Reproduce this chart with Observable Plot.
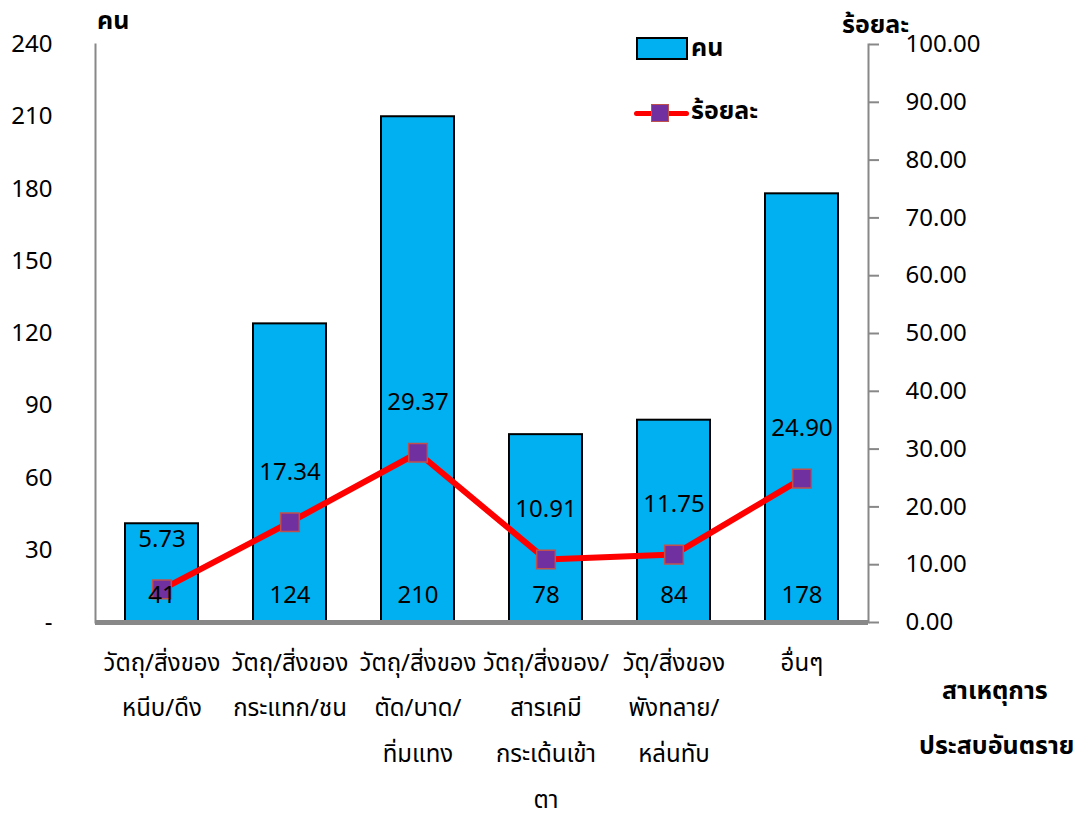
<!DOCTYPE html>
<html>
<head>
<meta charset="utf-8">
<script src="https://cdn.jsdelivr.net/npm/d3@7"></script>
<script src="https://cdn.jsdelivr.net/npm/@observablehq/plot@0.6"></script>
<style>
  html, body { margin: 0; padding: 0; background: #fff; }
  body { width: 1084px; height: 824px; position: relative; overflow: hidden;
         font-family: Tahoma, "Noto Sans Thai", "Noto Sans", "DejaVu Sans", sans-serif; }
  #chart { position: absolute; left: 0; top: 0; }
  .lbl { position: absolute; font-weight: bold; font-size: 25px; color: #000; white-space: nowrap; }
  .leg-bar { position: absolute; left: 636px; top: 37px; width: 48px; height: 19px; background: #00B0F0; border: 2px solid #000; }
  .leg-line { position: absolute; left: 634px; top: 111px; width: 55px; height: 5px; background: #FF0000; border-radius: 3px; }
  .leg-sq { position: absolute; left: 651px; top: 104px; width: 16px; height: 16px; background: #7030A0; border: 1.5px solid #C0504D; }
</style>
</head>
<body>
<div id="chart"></div>
<div class="lbl" style="left:97px; top:2px;">คน</div>
<div class="lbl" style="left:842px; top:6px;">ร้อยละ</div>
<div class="leg-bar"></div>
<div class="lbl" style="left:691px; top:29px;">คน</div>
<div class="leg-line"></div>
<div class="leg-sq"></div>
<div class="lbl" style="left:691px; top:92px;">ร้อยละ</div>
<div class="lbl" style="left:942px; top:672px;">สาเหตุการ</div>
<div class="lbl" style="left:919px; top:727px;">ประสบอันตราย</div>
<script>
const categories = [
  "วัตถุ/สิ่งของ\nหนีบ/ดึง",
  "วัตถุ/สิ่งของ\nกระแทก/ชน",
  "วัตถุ/สิ่งของ\nตัด/บาด/\nทิ่มแทง",
  "วัตถุ/สิ่งของ/\nสารเคมี\nกระเด้นเข้า\nตา",
  "วัตุ/สิ่งของ\nพังทลาย/\nหล่นทับ",
  "อื่นๆ"
];
const counts = [41, 124, 210, 78, 84, 178];
const percents = [5.73, 17.34, 29.37, 10.91, 11.75, 24.90];
const leftTicks = [0, 30, 60, 90, 120, 150, 180, 210, 240];
const rightTicks = [0, 10, 20, 30, 40, 50, 60, 70, 80, 90, 100];

const ratio = 240 / 100; // right axis (percent) mapped onto left scale
const data = categories.map((c, i) => ({cat: c, n: counts[i], p: percents[i]}));
const font = 'Tahoma, "Noto Sans Thai", "Noto Sans", "DejaVu Sans", sans-serif';

const chart = Plot.plot({
  width: 1084,
  height: 824,
  marginLeft: 95,
  marginRight: 216,
  marginTop: 44,
  marginBottom: 202,
  style: {fontFamily: font, fontSize: "22px", color: "#000", background: "#fff"},
  x: {domain: categories, paddingInner: 0.43, paddingOuter: 0.215},
  y: {domain: [0, 240]},
  marks: [
    Plot.frame({anchor: "left", stroke: "#888", strokeWidth: 2}),
    Plot.frame({anchor: "right", stroke: "#888", strokeWidth: 2}),
    Plot.axisY({ticks: leftTicks, tickSize: 0, tickPadding: 43, fontSize: 24,
      tickFormat: d => d === 0 ? "-" : String(d), label: null}),
    Plot.axisY({anchor: "right", ticks: rightTicks.map(t => t * ratio), tickSize: 10,
      stroke: "#888", strokeWidth: 2, tickPadding: 27, fontSize: 24, textAnchor: "start",
      tickFormat: d => (d / ratio).toFixed(2), label: null}),
    Plot.axisX({tickSize: 0, tickPadding: 16, fontSize: 24, lineHeight: 1.9, label: null, textAnchor: "middle"}),
    Plot.barY(data, {x: "cat", y: "n", fill: "#00B0F0", stroke: "#000", strokeWidth: 2}),
    Plot.ruleY([0], {stroke: "#888", strokeWidth: 5}),
    Plot.line(data, {x: "cat", y: d => d.p * ratio, stroke: "#FF0000", strokeWidth: 6}),
    Plot.dot(data, {x: "cat", y: d => d.p * ratio, symbol: "square", r: 10.5,
      fill: "#7030A0", stroke: "#C0504D", strokeWidth: 1.5}),
    Plot.text(data, {x: "cat", y: d => d.p * ratio, text: d => d.p.toFixed(2), dy: -50, fontSize: 24, fill: "#000"}),
    Plot.text(data, {x: "cat", y: 0, text: d => String(d.n), dy: -27, fontSize: 24, fill: "#000"})
  ]
});
document.getElementById("chart").appendChild(chart);
</script>
</body>
</html>
